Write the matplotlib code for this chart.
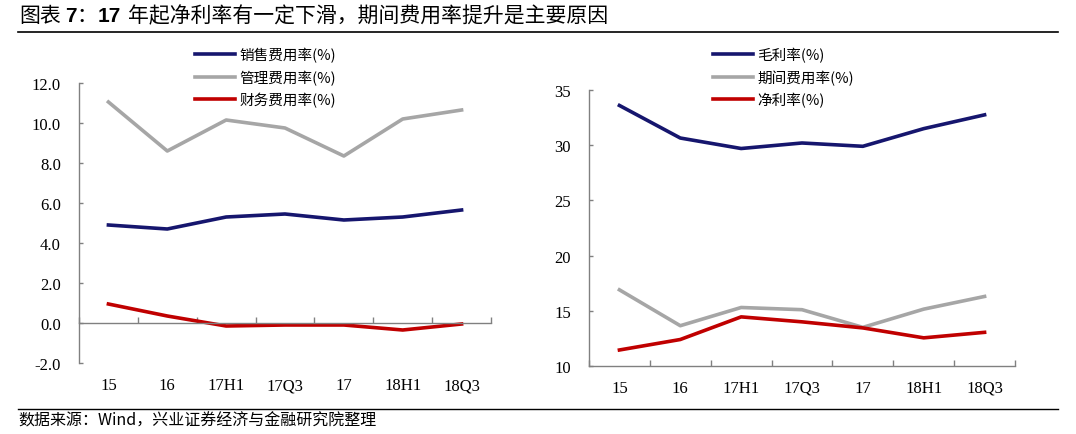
import numpy as np
import matplotlib
matplotlib.use('Agg')
import matplotlib.pyplot as plt
from matplotlib.ticker import FormatStrFormatter, FixedLocator

plt.rcParams['font.family'] = ['Noto Sans CJK SC', 'DejaVu Sans']
plt.rcParams['axes.unicode_minus'] = False

# 数据
periods = ['15', '16', '17H1', '17Q3', '17', '18H1', '18Q3']
sales_rate = [4.9, 4.7, 5.3, 5.45, 5.15, 5.3, 5.65]
admin_rate = [11.05, 8.6, 10.15, 9.75, 8.35, 10.2, 10.65]
fin_rate = [0.95, 0.35, -0.15, -0.1, -0.1, -0.35, -0.05]
gross_margin = [33.6, 30.65, 29.7, 30.2, 29.9, 31.5, 32.75]
period_exp = [16.9, 13.65, 15.3, 15.1, 13.5, 15.15, 16.3]
net_margin = [11.45, 12.4, 14.45, 14.0, 13.45, 12.55, 13.05]

navy = '#16166e'
grey = '#a6a6a6'
red = '#c00000'
axc = '#808080'
W, H = 1076, 435
lw = 2.6

fig = plt.figure(figsize=(W / 100, H / 100), dpi=100)
ax1 = fig.add_axes([79 / W, 1 - 364 / H, 412 / W, 280 / H])
ax2 = fig.add_axes([589 / W, 1 - 367 / H, 426 / W, 276 / H])

x = np.arange(len(periods))

# 左图：费用率
l1, = ax1.plot(x, sales_rate, color=navy, lw=lw, label='销售费用率(%)')
l2, = ax1.plot(x, admin_rate, color=grey, lw=lw, label='管理费用率(%)')
l3, = ax1.plot(x, fin_rate, color=red, lw=lw, label='财务费用率(%)')
ax1.set_ylim(-2, 12)
ax1.set_yticks(np.arange(-2, 12.1, 2))
ax1.yaxis.set_major_formatter(FormatStrFormatter('%.1f'))
ax1.spines['bottom'].set_position(('data', 0))

# 右图：利润率
r1, = ax2.plot(x, gross_margin, color=navy, lw=lw, label='毛利率(%)')
r2, = ax2.plot(x, period_exp, color=grey, lw=lw, label='期间费用率(%)')
r3, = ax2.plot(x, net_margin, color=red, lw=lw, label='净利率(%)')
ax2.set_ylim(10, 35)
ax2.set_yticks(np.arange(10, 36, 5))

for ax, xpad in [(ax1, 39), (ax2, 10)]:
    ax.set_xlim(-0.5, len(periods) - 0.5)
    ax.xaxis.set_major_locator(FixedLocator(np.arange(-0.5, len(periods))))
    ax.xaxis.set_minor_locator(FixedLocator(x))
    ax.set_xticklabels([], minor=False)
    ax.set_xticklabels(periods, minor=True)
    ax.tick_params(axis='x', which='major', direction='in', length=4, color=axc, width=1)
    ax.tick_params(axis='x', which='minor', length=0, pad=xpad)
    ax.tick_params(axis='y', direction='in', length=3, color=axc, width=1, pad=13)
    for lab in ax.get_xticklabels(minor=True) + ax.get_yticklabels():
        lab.set_family('Liberation Serif')
        lab.set_fontsize(12)
    for s in ['top', 'right']:
        ax.spines[s].set_visible(False)
    for s in ['left', 'bottom']:
        ax.spines[s].set_color(axc)
        ax.spines[s].set_linewidth(1)

leg_kw = dict(loc='upper left', frameon=False, fontsize=10.5, handlelength=2.75,
              handletextpad=0.3, labelspacing=0.5, borderpad=0, borderaxespad=0,
              bbox_transform=fig.transFigure)
ax1.legend(handles=[l1, l2, l3], bbox_to_anchor=(195 / W, 1 - 48 / H), **leg_kw)
ax2.legend(handles=[r1, r2, r3], bbox_to_anchor=(713 / W, 1 - 48 / H), **leg_kw)

# 标题
ty = 1 - 16 / H
fig.text(19 / W, ty, '图表', fontsize=15, va='center')
fig.text(65 / W, ty, '7', fontsize=15, va='center', family='Liberation Sans', weight='bold')
fig.text(76 / W, ty, '：', fontsize=15, va='center')
fig.text(98 / W, ty, '17', fontsize=15, va='center', family='Liberation Sans', weight='bold')
fig.text(128 / W, ty, '年起净利率有一定下滑，期间费用率提升是主要原因', fontsize=15, va='center')
fig.add_artist(plt.Line2D([18 / W, 1058 / W], [1 - 33 / H, 1 - 33 / H], color='black', lw=1.2))

# 来源
fig.add_artist(plt.Line2D([18 / W, 1058 / W], [1 - 410 / H, 1 - 410 / H], color='black', lw=1))
fig.text(18 / W, 1 - 421 / H, '数据来源：Wind，兴业证券经济与金融研究院整理', fontsize=11.5,
         va='center', family=['Noto Sans CJK SC', 'Liberation Serif'])

fig.savefig('out.png', dpi=100)
